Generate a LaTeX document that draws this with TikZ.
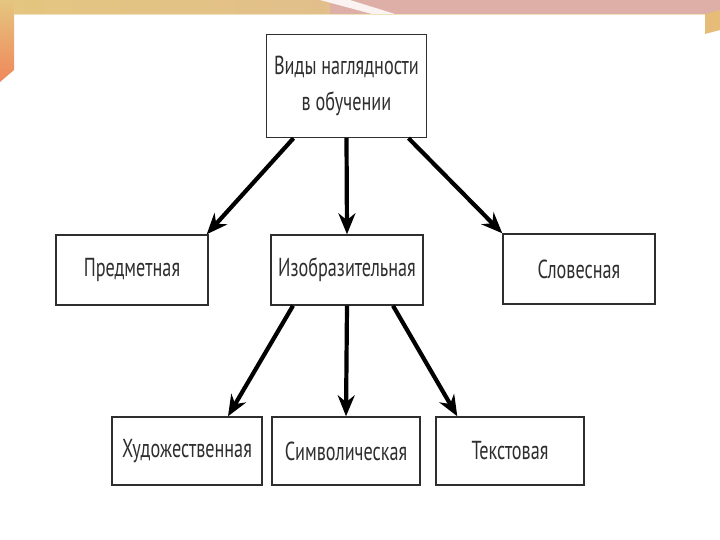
\documentclass[tikz,border=0pt]{standalone}
\usepackage{fontspec}
\setmainfont{PT Sans}[FakeStretch=0.7]
\usetikzlibrary{arrows.meta}
\definecolor{bandgold}{HTML}{E4C67F}
\definecolor{bandpink}{HTML}{DDAFA6}
\definecolor{bandorange}{HTML}{F0875A}
\definecolor{inkgray}{HTML}{2E2E2E}
\tikzstyle{kind} = [rectangle, minimum width=152pt, minimum height=70pt,
    text centered, draw=inkgray, line width=1.4pt, text=inkgray,
    font=\fontsize{26}{30}\selectfont, inner sep=0pt]
\tikzstyle{arrow} = [line width=4.2pt, draw=black, -{Stealth[length=21pt,width=17pt]}]

\begin{document}
\begin{tikzpicture}[x=1pt, y=-1pt]
            % frame of the slide
            \useasboundingbox (0,0) rectangle (720,540);
            \fill[white] (0,0) rectangle (720,540);
            \shade[left color=bandgold, right color=bandgold!70!bandpink] (0,0) rectangle (330,14);
            \fill[bandpink] (330,0) rectangle (720,14);
            \fill[white!85!bandpink] (320,0) -- (350,0) -- (395,14) -- (372,14) -- cycle;
            \shade[top color=bandgold, bottom color=bandorange] (0,0) -- (14,0) -- (14,70) -- (0,82) -- cycle;
            \fill[bandgold!85!bandorange] (705,14) -- (720,10) -- (720,30) -- (705,34) -- cycle;
            \draw[bandgold!50, line width=1pt] (14,15) -- (705,15);

            \node (kinds) [kind, minimum width=160pt, minimum height=103pt, align=center] at (346.5,86) {Виды наглядности\\[6pt]в обучении};
            \node (objective) [kind] at (132,270) {Предметная};
            \node (pictorial) [kind] at (347,270) {Изобразительная};
            \node (verbal) [kind] at (579,269) {Словесная};
            \node (artistic) [kind, minimum width=150pt, minimum height=68pt] at (187,451) {Художественная};
            \node (symbolic) [kind, minimum width=148pt, minimum height=68pt] at (346,451) {Символическая};
            \node (textual) [kind, minimum width=148pt, minimum height=68pt] at (510,451) {Текстовая};

            \draw [arrow] ([xshift=-53pt]kinds.south) -- ([xshift=-2pt]objective.north east);
            \draw [arrow] (kinds.south) -- (pictorial.north);
            \draw [arrow] ([xshift=62pt]kinds.south) -- (verbal.north west);
            \draw [arrow] ([xshift=-54pt]pictorial.south) -- ([xshift=41pt]artistic.north);
            \draw [arrow] (pictorial.south) -- (symbolic.north);
            \draw [arrow] ([xshift=46pt]pictorial.south) -- ([xshift=22pt]textual.north west);
        \end{tikzpicture}
\end{document}
